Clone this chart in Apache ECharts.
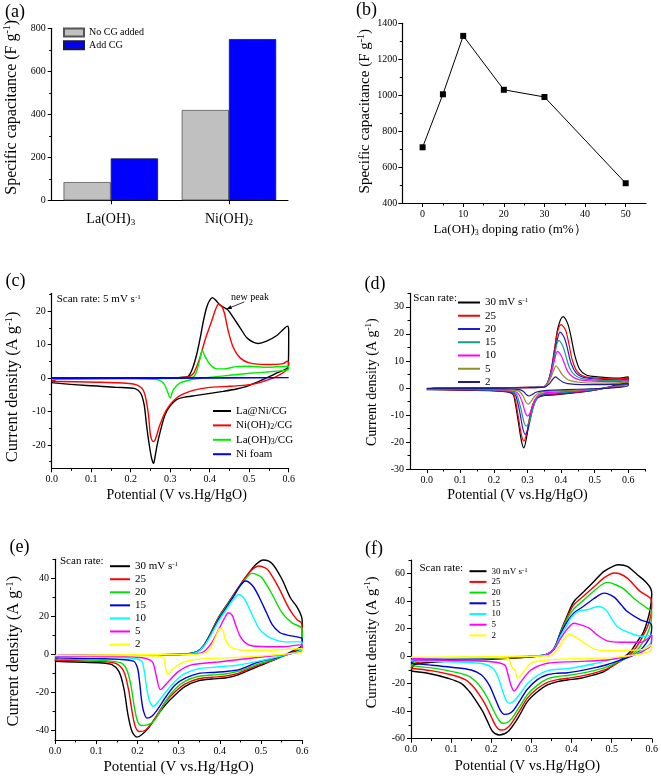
<!DOCTYPE html>
<html><head><meta charset="utf-8">
<script src="https://cdn.jsdelivr.net/npm/echarts@6/dist/echarts.min.js"></script>
<style>html,body{margin:0;padding:0;background:#fff}#c{width:661px;height:778px}</style>
</head><body><div id="c"></div>
<script>
// ---------------- DATA ----------------
// (a) bar chart
const barCategories = ['La(OH)3', 'Ni(OH)2'];
const barNoCG = [85, 420];
const barAddCG = [195, 750];
// (b) doping ratio
const dopingRatio = [0, 5, 10, 20, 30, 50];
const dopingCapacitance = [710, 1005, 1330, 1030, 990, 510];
// (c) CV at 5 mV/s  [potential V, current density A/g]
const cLaNi = [[0,-1.4],[0.01,-0.5],[0.05,-0.2],[0.2,-0.1],[0.3,0],[0.335,0.2],[0.346,0.5],[0.357,3],[0.367,7],[0.376,12],[0.384,17],[0.392,21],[0.399,23],[0.407,24],[0.417,23],[0.426,21.8],[0.434,21.2],[0.447,20.2],[0.46,18],[0.477,15],[0.494,12],[0.51,10.7],[0.523,10.3],[0.544,11],[0.57,12.7],[0.586,14.5],[0.597,15.5],[0.6,14],[0.599,3.5],[0.57,1.5],[0.544,0],[0.519,-1.3],[0.494,-2.5],[0.468,-3.3],[0.434,-4],[0.401,-4.6],[0.367,-5.2],[0.333,-5.8],[0.316,-6.5],[0.299,-8.5],[0.287,-11],[0.277,-15],[0.267,-20],[0.261,-24],[0.258,-25.5],[0.253,-24],[0.247,-20],[0.24,-14],[0.234,-8],[0.225,-4.5],[0.211,-3.2],[0.164,-2.8],[0.08,-2.2],[0,-1.4]];
const cNiOH2 = [[0,-1],[0.01,-0.4],[0.1,-0.2],[0.3,0],[0.34,0.2],[0.35,0.5],[0.36,1.5],[0.375,6],[0.39,12],[0.405,17],[0.415,20.5],[0.422,22],[0.43,21.5],[0.437,19.5],[0.447,14],[0.46,9],[0.477,6],[0.5,4.5],[0.544,4],[0.586,4.3],[0.597,5],[0.6,4.5],[0.599,3],[0.57,0.5],[0.536,-1],[0.502,-2],[0.451,-2.5],[0.401,-2.8],[0.35,-4],[0.316,-6],[0.291,-9.5],[0.274,-14],[0.262,-18.5],[0.257,-19],[0.25,-17],[0.245,-11],[0.236,-5],[0.228,-3],[0.207,-1.8],[0.122,-1.3],[0,-1]];
const cLaOH3 = [[0,-0.3],[0.2,-0.2],[0.34,0],[0.359,0.3],[0.367,2],[0.376,6],[0.381,8.2],[0.388,6.5],[0.401,4],[0.418,2.7],[0.434,2.7],[0.468,3.4],[0.502,3.5],[0.544,3.2],[0.597,3.5],[0.6,3.2],[0.598,2.4],[0.544,1.8],[0.502,1.4],[0.451,0.8],[0.401,0.2],[0.35,-0.6],[0.325,-1.5],[0.308,-3.5],[0.3,-6],[0.293,-4],[0.283,-1.5],[0.266,-0.5],[0.164,-0.2],[0,-0.3]];
const cNiFoam = [[0,0.05],[0.3,0.05],[0.6,0.1],[0.6,-0.05],[0.3,-0.1],[0,-0.1]];
// (d) scan rates
const d30 = [[0,-0.6],[0.02,-0.2],[0.1,0],[0.2,0.1],[0.3,0.2],[0.34,0.3],[0.351,0.4],[0.361,2],[0.371,6.3],[0.381,14.4],[0.391,22.4],[0.406,26.4],[0.42,23.7],[0.43,18.7],[0.44,12.5],[0.455,7],[0.475,4.8],[0.509,4.1],[0.569,3.6],[0.6,4.1],[0.6,2.5],[0.55,0.6],[0.53,0],[0.5,-0.8],[0.45,-1.7],[0.38,-2.6],[0.351,-2.8],[0.331,-3.6],[0.317,-6],[0.307,-11],[0.297,-18.5],[0.289,-22.2],[0.282,-19.7],[0.272,-12],[0.262,-4.5],[0.257,-2.4],[0.24,-1.5],[0.2,-1.1],[0.1,-0.8],[0,-0.6]];
const d25 = [[0,-0.5],[0.02,-0.2],[0.1,0],[0.2,0.1],[0.3,0.2],[0.35,0.5],[0.36,2],[0.37,6.5],[0.38,14],[0.39,21],[0.4,23.4],[0.413,21.5],[0.423,16.5],[0.433,10.5],[0.448,6],[0.468,4.3],[0.5,3.7],[0.56,3.3],[0.6,3.6],[0.6,2.2],[0.55,0.5],[0.5,-0.8],[0.45,-1.6],[0.38,-2.4],[0.35,-2.6],[0.33,-3.4],[0.318,-5.5],[0.308,-10],[0.297,-17],[0.289,-19.7],[0.282,-17.5],[0.273,-11],[0.264,-4.5],[0.258,-2.3],[0.24,-1.4],[0.2,-1],[0.1,-0.7],[0,-0.5]];
const d20 = [[0,-0.5],[0.02,-0.2],[0.1,0],[0.2,0.05],[0.3,0.15],[0.35,0.5],[0.36,2],[0.37,6],[0.38,12.5],[0.39,18.5],[0.397,20.6],[0.41,18.5],[0.42,14],[0.43,9],[0.445,5.5],[0.465,4],[0.5,3.3],[0.56,3],[0.6,3.2],[0.6,2],[0.55,0.4],[0.5,-0.7],[0.45,-1.4],[0.38,-2.2],[0.35,-2.4],[0.335,-3.2],[0.323,-5],[0.313,-9],[0.302,-15],[0.293,-17.2],[0.286,-15],[0.277,-9],[0.268,-4],[0.262,-2.2],[0.24,-1.3],[0.2,-0.9],[0.1,-0.6],[0,-0.5]];
const d15 = [[0,-0.4],[0.02,-0.15],[0.1,0],[0.2,0.05],[0.3,0.15],[0.35,0.5],[0.36,2],[0.37,5.5],[0.38,11.5],[0.387,16],[0.393,17.5],[0.405,15.5],[0.415,11.5],[0.425,7.5],[0.44,4.8],[0.46,3.5],[0.5,2.9],[0.56,2.7],[0.6,2.9],[0.6,1.8],[0.55,0.3],[0.5,-0.6],[0.45,-1.2],[0.38,-1.9],[0.35,-2.1],[0.335,-2.8],[0.325,-4.5],[0.315,-8],[0.305,-12.5],[0.296,-14.1],[0.289,-12.5],[0.28,-7.5],[0.271,-3.5],[0.265,-2],[0.24,-1.1],[0.2,-0.8],[0.1,-0.5],[0,-0.4]];
const d10 = [[0,-0.4],[0.02,-0.15],[0.1,0],[0.2,0.05],[0.3,0.1],[0.35,0.4],[0.36,1.8],[0.37,5],[0.38,10],[0.389,13.5],[0.4,12],[0.41,9],[0.42,6],[0.435,4],[0.455,3],[0.5,2.5],[0.56,2.3],[0.6,2.6],[0.6,1.5],[0.55,0.2],[0.5,-0.5],[0.45,-1],[0.38,-1.6],[0.35,-1.8],[0.335,-2.4],[0.325,-3.8],[0.315,-6.5],[0.307,-9.5],[0.3,-10.4],[0.293,-9],[0.285,-5.5],[0.276,-2.8],[0.268,-1.6],[0.24,-0.9],[0.2,-0.6],[0.1,-0.4],[0,-0.4]];
const d5 = [[0,-0.3],[0.1,0],[0.2,0.05],[0.3,0.1],[0.35,0.3],[0.36,1.5],[0.37,4],[0.378,6.5],[0.385,8.2],[0.393,7],[0.403,5],[0.415,3.5],[0.43,2.6],[0.46,2],[0.5,1.8],[0.56,1.8],[0.6,2.2],[0.6,1.2],[0.55,0.1],[0.5,-0.4],[0.45,-0.8],[0.38,-1.2],[0.35,-1.4],[0.335,-1.8],[0.322,-3],[0.312,-4.8],[0.302,-6],[0.295,-5.2],[0.287,-3],[0.278,-1.5],[0.265,-0.9],[0.2,-0.5],[0.1,-0.3],[0,-0.3]];
const d2 = [[0,-0.2],[0.1,0],[0.3,0.1],[0.35,0.3],[0.365,1.5],[0.375,3.2],[0.383,4.1],[0.392,3.3],[0.405,2.2],[0.42,1.6],[0.46,1.2],[0.52,1.2],[0.6,1.6],[0.6,0.8],[0.55,0],[0.5,-0.3],[0.45,-0.5],[0.38,-0.8],[0.35,-1],[0.325,-1.6],[0.313,-2.5],[0.304,-3],[0.296,-2.4],[0.287,-1.2],[0.275,-0.6],[0.2,-0.3],[0,-0.2]];
// (e)
const e30 = [[0,-3.6],[0.01,-1.2],[0.05,-0.8],[0.15,-0.5],[0.25,-0.3],[0.32,0.2],[0.345,1.5],[0.36,4.5],[0.375,10],[0.397,19.5],[0.42,27],[0.44,33.5],[0.462,40.4],[0.486,47],[0.506,49.6],[0.527,47.7],[0.551,39.4],[0.571,29.8],[0.587,25],[0.598,20],[0.6,16],[0.6,5],[0.583,2.5],[0.559,0],[0.527,-3.3],[0.494,-6.2],[0.446,-10.6],[0.413,-12.4],[0.381,-12.9],[0.349,-13.8],[0.316,-16.8],[0.292,-21.2],[0.268,-26.5],[0.244,-33.3],[0.227,-38.6],[0.211,-42.1],[0.199,-43.5],[0.187,-40.6],[0.177,-31.7],[0.167,-17.7],[0.155,-8.9],[0.138,-5.4],[0.114,-4.5],[0.05,-4],[0,-3.6]];
const e25 = [[0,-3],[0.01,-1],[0.05,-0.7],[0.15,-0.4],[0.25,-0.2],[0.32,0.2],[0.345,1.5],[0.36,4.5],[0.375,10],[0.397,19.5],[0.42,27],[0.44,33.5],[0.46,40],[0.478,44.5],[0.494,46.5],[0.51,45.5],[0.519,43.8],[0.543,35],[0.567,24.5],[0.587,18.3],[0.598,16.6],[0.6,13],[0.6,4.5],[0.583,2],[0.562,0],[0.53,-3],[0.494,-5.6],[0.446,-9.8],[0.413,-11.4],[0.381,-12],[0.349,-12.8],[0.316,-15.5],[0.292,-19.5],[0.268,-25],[0.25,-31],[0.232,-37],[0.218,-40],[0.205,-40.5],[0.195,-38],[0.187,-30],[0.178,-18],[0.167,-9],[0.15,-5],[0.12,-3.8],[0.05,-3.3],[0,-3]];
const e20 = [[0,-2.5],[0.01,-0.9],[0.05,-0.6],[0.15,-0.4],[0.25,-0.2],[0.32,0.2],[0.345,1.5],[0.36,4.3],[0.375,9.7],[0.397,19],[0.42,26.5],[0.44,33],[0.46,39],[0.478,42.6],[0.49,42],[0.502,40.3],[0.527,31.5],[0.551,21.8],[0.575,16.6],[0.598,14],[0.6,11],[0.6,4],[0.583,1.5],[0.565,0],[0.53,-2.7],[0.494,-5],[0.446,-8.8],[0.413,-10.3],[0.381,-10.8],[0.349,-11.5],[0.316,-14],[0.292,-18],[0.27,-24],[0.252,-31],[0.235,-36],[0.21,-37.4],[0.2,-35],[0.192,-27],[0.184,-16],[0.174,-8],[0.16,-4.5],[0.12,-3.2],[0.05,-2.7],[0,-2.5]];
const e15 = [[0,-1.8],[0.01,-0.8],[0.05,-0.6],[0.15,-0.4],[0.25,-0.2],[0.32,0.2],[0.345,1.4],[0.36,4.2],[0.375,9.5],[0.397,18.5],[0.42,26],[0.435,31],[0.447,35.5],[0.462,38.6],[0.48,36],[0.496,29.8],[0.513,22],[0.527,15.7],[0.545,11.5],[0.559,10.4],[0.598,8.7],[0.6,8],[0.6,3.5],[0.58,1],[0.566,0],[0.53,-2.2],[0.494,-4],[0.446,-8],[0.413,-9],[0.381,-9.5],[0.349,-10],[0.316,-12.5],[0.292,-16],[0.27,-22],[0.25,-28.5],[0.235,-32.5],[0.223,-33.5],[0.215,-30],[0.21,-24],[0.205,-14],[0.2,-7],[0.19,-3.5],[0.12,-2.3],[0.05,-2],[0,-1.8]];
const e10 = [[0,-1.2],[0.01,-0.6],[0.1,-0.4],[0.25,-0.2],[0.32,0.1],[0.345,1.2],[0.36,4],[0.375,9],[0.397,17.5],[0.42,25],[0.435,29.5],[0.446,31.5],[0.46,29],[0.478,21],[0.494,14],[0.51,10.4],[0.53,8],[0.559,6.6],[0.598,6.6],[0.6,6],[0.6,3],[0.58,0.8],[0.566,0],[0.53,-1.8],[0.494,-3.5],[0.446,-5.6],[0.413,-6.2],[0.381,-6.8],[0.349,-7.5],[0.316,-10],[0.292,-14],[0.27,-19.5],[0.25,-25],[0.239,-27.3],[0.23,-25],[0.222,-17],[0.216,-8],[0.21,-3.5],[0.19,-2],[0.1,-1.4],[0,-1.2]];
const e5 = [[0,-0.8],[0.01,-0.4],[0.1,-0.3],[0.25,-0.1],[0.33,0.1],[0.355,0.8],[0.365,2],[0.38,6],[0.397,13],[0.41,18.5],[0.421,21.9],[0.43,20.5],[0.438,15.7],[0.448,10],[0.458,6.9],[0.47,5],[0.486,4.3],[0.55,4],[0.598,5],[0.6,5],[0.6,2],[0.559,0],[0.478,-1.9],[0.397,-4],[0.333,-5.4],[0.3,-8.9],[0.272,-15],[0.256,-18.5],[0.245,-10.6],[0.235,-3.6],[0.2,-1.5],[0.1,-1],[0,-0.8]];
const e2 = [[0,-0.5],[0.1,-0.3],[0.25,-0.1],[0.34,0],[0.365,0.8],[0.375,2.5],[0.389,8.7],[0.395,12],[0.401,13.6],[0.408,12.5],[0.413,7.8],[0.43,3.4],[0.462,2.2],[0.52,2.2],[0.598,3],[0.6,3],[0.6,1.5],[0.559,0.2],[0.5,-0.8],[0.45,-1.5],[0.341,-2.7],[0.308,-4.5],[0.284,-8],[0.274,-10.6],[0.268,-7],[0.264,-1.9],[0.25,-0.9],[0.15,-0.6],[0,-0.5]];
// (f)
const f30 = [[0,-10.7],[0.01,-6],[0.05,-4.5],[0.1,-3.5],[0.2,-2.2],[0.3,-0.5],[0.34,1.5],[0.357,5.8],[0.373,18],[0.39,30],[0.406,39.8],[0.431,47],[0.456,54.4],[0.481,61.7],[0.506,65.8],[0.518,66.5],[0.539,65.3],[0.564,59.3],[0.584,54.4],[0.597,49.5],[0.6,45],[0.598,38],[0.593,30],[0.58,18],[0.564,10.7],[0.547,3.4],[0.53,-1],[0.506,-6.3],[0.481,-11.2],[0.456,-13.6],[0.423,-16],[0.39,-17.3],[0.365,-18.5],[0.34,-20.9],[0.315,-25.8],[0.29,-33],[0.266,-45.2],[0.241,-55],[0.22,-57.3],[0.204,-55],[0.191,-47.6],[0.179,-40.3],[0.158,-30.6],[0.146,-25.8],[0.125,-19.7],[0.092,-16],[0.042,-12.4],[0,-10.7]];
const f25 = [[0,-8.7],[0.01,-5],[0.05,-3.8],[0.1,-3],[0.2,-1.8],[0.3,-0.4],[0.34,1.5],[0.357,5.8],[0.373,17.5],[0.39,29],[0.406,37.5],[0.431,44],[0.456,50.5],[0.481,57],[0.506,60.5],[0.52,60],[0.539,56.8],[0.572,47],[0.597,42.2],[0.6,38.6],[0.598,30],[0.59,22],[0.575,13],[0.56,6],[0.545,1],[0.52,-4],[0.49,-9],[0.456,-12.3],[0.423,-14.5],[0.39,-16],[0.365,-17],[0.34,-19],[0.315,-23.5],[0.29,-30.5],[0.27,-40],[0.25,-49],[0.236,-53],[0.224,-53.7],[0.212,-51],[0.2,-44],[0.185,-35],[0.17,-28],[0.155,-22],[0.135,-17],[0.1,-13.5],[0.05,-10.5],[0,-8.7]];
const f20 = [[0,-7],[0.01,-4],[0.05,-3],[0.1,-2.5],[0.2,-1.5],[0.3,-0.3],[0.34,1.5],[0.357,5.8],[0.373,17],[0.39,27.5],[0.406,34.5],[0.431,41],[0.456,47.5],[0.475,52],[0.489,53.7],[0.51,52],[0.53,49],[0.555,42.2],[0.588,35],[0.6,32.5],[0.598,24],[0.59,17],[0.578,10],[0.562,4],[0.545,0],[0.52,-3.5],[0.49,-7.5],[0.456,-10.5],[0.423,-12.5],[0.39,-14],[0.365,-14.8],[0.34,-16.5],[0.315,-21],[0.29,-28],[0.27,-37],[0.252,-45],[0.238,-48.5],[0.228,-48.8],[0.218,-46],[0.205,-39],[0.19,-30],[0.175,-23],[0.16,-18],[0.14,-14],[0.1,-11],[0.05,-8.5],[0,-7]];
const f15 = [[0,-5.2],[0.01,-3],[0.05,-2.3],[0.1,-2],[0.2,-1.2],[0.3,-0.2],[0.34,1.5],[0.357,5.8],[0.373,16.5],[0.39,25.5],[0.406,31.5],[0.431,36.5],[0.456,42],[0.481,45.9],[0.506,43],[0.525,37],[0.539,32.5],[0.572,26.5],[0.597,24],[0.6,21.6],[0.597,15],[0.585,9],[0.57,4],[0.55,0],[0.52,-3],[0.49,-6],[0.456,-8.5],[0.423,-10.5],[0.39,-12],[0.365,-12.4],[0.34,-13.5],[0.315,-17],[0.29,-24],[0.27,-33],[0.255,-39.5],[0.243,-42],[0.233,-42.3],[0.222,-39],[0.21,-31],[0.195,-21],[0.175,-13.5],[0.15,-10],[0.1,-8],[0.05,-6.5],[0,-5.2]];
const f10 = [[0,-3.4],[0.01,-2],[0.05,-1.6],[0.1,-1.3],[0.2,-0.8],[0.3,0],[0.34,1.5],[0.357,5.5],[0.373,15],[0.39,23],[0.398,27.7],[0.415,32.5],[0.439,33.8],[0.468,36.2],[0.48,35],[0.489,32.5],[0.514,21.6],[0.547,16.7],[0.58,14.3],[0.6,15.5],[0.598,10],[0.58,5],[0.56,1.5],[0.54,0],[0.5,-2.5],[0.456,-5.5],[0.423,-7.5],[0.39,-9],[0.365,-9.5],[0.34,-10.5],[0.315,-14],[0.29,-20],[0.27,-28],[0.255,-33],[0.245,-34.3],[0.237,-32],[0.228,-25],[0.218,-16],[0.205,-9],[0.18,-5.5],[0.12,-4.2],[0.05,-3.7],[0,-3.4]];
const f5 = [[0,-2.5],[0.01,-1.5],[0.1,-1],[0.2,-0.6],[0.3,0],[0.34,1.2],[0.357,5],[0.373,13],[0.39,20],[0.406,24],[0.423,22.8],[0.444,20.4],[0.464,15.5],[0.489,11.2],[0.522,10.2],[0.572,10.2],[0.6,15.5],[0.598,8],[0.58,4],[0.565,1.5],[0.54,0],[0.489,-2.7],[0.406,-3.9],[0.34,-5.1],[0.299,-10],[0.274,-18.5],[0.257,-25.3],[0.249,-21],[0.241,-12.4],[0.233,-6.3],[0.2,-4],[0.1,-3],[0,-2.5]];
const f2 = [[0,-0.8],[0.1,-0.5],[0.3,0],[0.35,0.5],[0.357,2.2],[0.37,7],[0.38,12],[0.394,16],[0.415,13],[0.439,8.2],[0.464,4.6],[0.489,4.1],[0.572,4.6],[0.6,8.2],[0.598,4],[0.57,1.5],[0.5,-1],[0.45,-1.5],[0.34,-2.7],[0.299,-5.1],[0.278,-12.4],[0.266,-16],[0.259,-10],[0.253,-8.7],[0.241,-1.5],[0.2,-1],[0.1,-0.9],[0,-0.8]];
// tick values
const potTicks = [0, 0.1, 0.2, 0.3, 0.4, 0.5, 0.6];
const potMinor = [0.05, 0.15, 0.25, 0.35, 0.45, 0.55];
const scanRates = ['30', '25', '20', '15', '10', '5', '2'];

// ---------------- STYLE / LAYOUT ----------------
const FONT = '"Liberation Serif","Times New Roman",Times,serif';
function richFor(size) {
  const s = Math.round(size * 0.64);
  return {
    sup: {fontFamily: FONT, fontSize: s, lineHeight: s - 2, verticalAlign: 'top', color: '#000'},
    sub: {fontFamily: FONT, fontSize: s, lineHeight: s - 2, verticalAlign: 'bottom', color: '#000'}
  };
}
const RICH_S = {
  sup: {fontFamily: FONT, fontSize: 7, lineHeight: 5, verticalAlign: 'top', color: '#000'},
  sub: {fontFamily: FONT, fontSize: 8, lineHeight: 5, verticalAlign: 'bottom', color: '#000'}
};
const grids = [
  {left: 51.7, top: 28.3, width: 236.3, height: 172},
  {left: 402.3, top: 23.3, width: 243.7, height: 179.7},
  {left: 51.7, top: 293.3, width: 237, height: 175},
  {left: 410, top: 293.3, width: 235, height: 175.7},
  {left: 55, top: 559.3, width: 247.3, height: 180.7},
  {left: 411, top: 560, width: 241.7, height: 178.7}
];
const xAxes = [], yAxes = [];
function addValueAxes(list, dim, grid, o) {
  const pos = dim === 'x' ? 'bottom' : 'left';
  const idx = list.length;
  const ns = o.nameSize || 14;
  list.push({
    type: 'value', gridIndex: grid, position: pos, min: o.min, max: o.max,
    axisLine: {show: true, onZero: false, lineStyle: {color: '#000', width: 1.2}},
    axisTick: {show: true, inside: false, length: 4, customValues: o.majors, lineStyle: {color: '#000', width: 1}},
    axisLabel: {show: true, customValues: o.majors, formatter: o.fmt, color: '#000', fontFamily: FONT, fontSize: 10, margin: o.margin},
    splitLine: {show: false},
    name: o.name, nameLocation: 'middle', nameGap: o.nameGap, nameRotate: dim === 'y' ? 90 : 0,
    nameTextStyle: {color: '#000', fontFamily: FONT, fontSize: ns, lineHeight: ns + 2, rich: richFor(ns), padding: o.namePad || 0}
  });
  list.push({
    type: 'value', gridIndex: grid, position: pos, min: o.min, max: o.max,
    axisLine: {show: false, onZero: false},
    axisTick: {show: true, inside: false, length: 2.5, customValues: o.minors, lineStyle: {color: '#000', width: 1}},
    axisLabel: {show: false}, splitLine: {show: false}
  });
  return idx;
}
const fmtPot = v => v.toFixed(1);
const fmtInt = v => String(Math.round(v));
const potName = 'Potential (V vs.Hg/HgO)';
const curName = 'Current density (A g{sup|-1})';
const capName = 'Specific capacitance (F g{sup|-1})';

// (a)
const aX = xAxes.length;
xAxes.push({
  type: 'category', gridIndex: 0, position: 'bottom', data: barCategories,
  axisLine: {show: true, onZero: false, lineStyle: {color: '#000', width: 1.2}},
  axisTick: {show: true, alignWithLabel: true, inside: false, length: 4, lineStyle: {color: '#000'}},
  axisLabel: {color: '#000', fontFamily: FONT, fontSize: 14, lineHeight: 16, margin: 11, formatter: v => v.replace(/(\d)$/, '{sub|$1}'), rich: richFor(14)}
});
const aY = addValueAxes(yAxes, 'y', 0, {min: 0, max: 800, majors: [0,200,400,600,800], minors: [100,300,500,700], fmt: fmtInt, margin: 6, name: capName, nameGap: 31, nameSize: 16, namePad: [0, 0, 0, 14]});
// (b)
const bX = addValueAxes(xAxes, 'x', 1, {min: -5, max: 55, majors: [0,10,20,30,40,50], minors: [5,15,25,35,45], fmt: fmtInt, margin: 6, name: 'La(OH){sub|3} doping ratio (m%\uFF09', nameGap: 19, nameSize: 13, namePad: [0, 28, 0, 0]});
const bY = addValueAxes(yAxes, 'y', 1, {min: 400, max: 1400, majors: [400,600,800,1000,1200,1400], minors: [500,700,900,1100,1300], fmt: fmtInt, margin: 5, name: capName, nameGap: 25, nameSize: 15, namePad: [0, 0, 0, 4]});
// (c)
const cX = addValueAxes(xAxes, 'x', 2, {min: 0, max: 0.6, majors: potTicks, minors: potMinor, fmt: fmtPot, margin: 6, name: potName, nameGap: 19, namePad: [0, 0, 0, 13]});
const cY = addValueAxes(yAxes, 'y', 2, {min: -27, max: 25.3, majors: [-20,-10,0,10,20], minors: [-25,-15,-5,5,15,25], fmt: fmtInt, margin: 6, name: curName, nameGap: 30, nameSize: 16.5, namePad: [0, 12, 0, 0]});
// (d)
const dX = addValueAxes(xAxes, 'x', 3, {min: -0.05, max: 0.65, majors: potTicks, minors: potMinor.concat([0.65]), fmt: fmtPot, margin: 6, name: potName, nameGap: 18, namePad: [0, 20, 0, 0]});
const dY = addValueAxes(yAxes, 'y', 3, {min: -30, max: 35, majors: [-30,-20,-10,0,10,20,30], minors: [-25,-15,-5,5,15,25,35], fmt: fmtInt, margin: 6, name: curName, nameGap: 30, nameSize: 14, namePad: [0, 2, 0, 0]});
// (e)
const eX = addValueAxes(xAxes, 'x', 4, {min: 0, max: 0.6, majors: potTicks, minors: potMinor, fmt: fmtPot, margin: 6, name: potName, nameGap: 19, nameSize: 15});
const eY = addValueAxes(yAxes, 'y', 4, {min: -45, max: 50, majors: [-40,-20,0,20,40], minors: [-30,-10,10,30,50], fmt: fmtInt, margin: 6, name: curName, nameGap: 32, nameSize: 16.5, namePad: [0, 3, 0, 0]});
// (f)
const fX = addValueAxes(xAxes, 'x', 5, {min: 0, max: 0.6, majors: potTicks, minors: potMinor, fmt: fmtPot, margin: 6, name: potName, nameGap: 19, nameSize: 14.5, namePad: [0, 8, 0, 0]});
const fY = addValueAxes(yAxes, 'y', 5, {min: -60, max: 70, majors: [-60,-40,-20,0,20,40,60], minors: [-50,-30,-10,10,30,50,70], fmt: fmtInt, margin: 6, name: curName, nameGap: 31, nameSize: 14.5, namePad: [0, 0, 0, 14]});

function cv(name, xi, yi, data, color, w) {
  return {type: 'line', name, xAxisIndex: xi, yAxisIndex: yi, data, symbol: 'none', smooth: 0.3,
    lineStyle: {color, width: w || 1.3}, itemStyle: {color}, clip: true, z: 3};
}
const series = [];
series.push({type: 'bar', name: 'No CG added', xAxisIndex: aX, yAxisIndex: aY, data: barNoCG, barGap: '0%', barCategoryGap: '20%',
  itemStyle: {color: '#c0c0c0', borderColor: '#555', borderWidth: 0.8}});
series.push({type: 'bar', name: 'Add CG', xAxisIndex: aX, yAxisIndex: aY, data: barAddCG, barGap: '0%', barCategoryGap: '20%',
  itemStyle: {color: '#0000ff', borderColor: '#1a1a40', borderWidth: 0.8}});
series.push({type: 'line', name: 'doping', xAxisIndex: bX, yAxisIndex: bY, data: dopingRatio.map((r, i) => [r, dopingCapacitance[i]]),
  symbol: 'rect', symbolSize: 6, lineStyle: {color: '#000', width: 1}, itemStyle: {color: '#000'}});
const cNames = ['La@Ni/CG', 'Ni(OH)2/CG', 'La(OH)3/CG', 'Ni foam'];
series.push(cv(cNames[0], cX, cY, cLaNi, '#000000', 1.4));
series.push(cv(cNames[1], cX, cY, cNiOH2, '#ff0000', 1.4));
series.push(cv(cNames[2], cX, cY, cLaOH3, '#00ee00', 1.4));
series.push(cv(cNames[3], cX, cY, cNiFoam, '#0000ff', 1.4));
const dColors = ['#000000', '#ff0000', '#1f1fd0', '#199a8a', '#ff00ff', '#8f8f2a', '#1f1f8a'];
const dData = [d30, d25, d20, d15, d10, d5, d2];
const eColors = ['#000000', '#ff0000', '#00e000', '#0000dd', '#00ffff', '#ff00ff', '#ffff00'];
const eData = [e30, e25, e20, e15, e10, e5, e2];
const fData = [f30, f25, f20, f15, f10, f5, f2];
scanRates.forEach((r, i) => series.push(cv('(d) ' + r, dX, dY, dData[i], dColors[i], 1.2)));
scanRates.forEach((r, i) => series.push(cv('(e) ' + r, eX, eY, eData[i], eColors[i], 1.4)));
scanRates.forEach((r, i) => series.push(cv('(f) ' + r, fX, fY, fData[i], eColors[i], 1.4)));

const rateLabel = name => {
  const r = name.replace(/^\([def]\) /, '');
  return r === '30' ? '30 mV s{sup|-1}' : r;
};
// line-style legend keys: thin rect icon; row height set by text line height
function rateLegend(prefix, left, firstRowCenter, iw, lh, gap, fs) {
  return {data: scanRates.map(r => prefix + r), orient: 'vertical', left, top: firstRowCenter - 1, padding: 0,
    icon: 'rect', itemWidth: iw, itemHeight: 2, itemGap: gap, selectedMode: false,
    formatter: rateLabel,
    textStyle: {fontFamily: FONT, fontSize: fs, lineHeight: lh, color: '#000', rich: RICH_S}};
}
const legends = [
  {data: ['No CG added', 'Add CG'], orient: 'vertical', left: 63, top: 27.5, padding: 0, icon: 'rect',
   itemWidth: 20, itemHeight: 8, itemGap: 2.7, selectedMode: false,
   textStyle: {fontFamily: FONT, fontSize: 10, lineHeight: 10, color: '#000'}},
  {data: cNames, orient: 'vertical', left: 213, top: 405, padding: 0, icon: 'rect', itemWidth: 18, itemHeight: 2, itemGap: 2.4,
   selectedMode: false,
   formatter: n => n.replace(/\)(\d)/, '){sub|$1}'),
   textStyle: {fontFamily: FONT, fontSize: 11, lineHeight: 12, color: '#000', rich: RICH_S}},
  rateLegend('(d) ', 458, 298, 22, 11, 2.25, 11),
  rateLegend('(e) ', 110, 561.7, 20, 11, 2.05, 11),
  rateLegend('(f) ', 469.5, 567.7, 17, 9, 1.7, 9)
];

function txt(x, y, text, size, align, rich) {
  return {type: 'text', x, y, z: 10, style: {text, fill: '#000', font: size + 'px ' + FONT,
    align: align || 'left', verticalAlign: 'middle', textAlign: align || 'left', textVerticalAlign: 'middle', rich: rich}};
}
const labels = [
  txt(15, 12.5, '(a)', 18, 'center'), txt(366.5, 10.5, '(b)', 18, 'center'),
  txt(15.5, 281.5, '(c)', 18, 'center'), txt(375, 284.5, '(d)', 18, 'center'),
  txt(19.5, 547.5, '(e)', 18, 'center'), txt(374, 549.5, '(f)', 18, 'center'),
  txt(56.7, 299, 'Scan rate: 5 mV s{sup|-1}', 11, 'left', RICH_S),
  txt(413.3, 298, 'Scan rate:', 11, 'left'),
  txt(60, 561.5, 'Scan rate:', 11, 'left'),
  txt(419.5, 567.7, 'Scan rate:', 11, 'left'),
  txt(250, 297, 'new peak', 10, 'center')
];

const chart = echarts.init(document.getElementById('c'));
chart.setOption({
  animation: false, backgroundColor: '#ffffff',
  grid: grids, xAxis: xAxes, yAxis: yAxes, legend: legends, series,
  graphic: labels
});
// arrow for "new peak" pointing at shoulder of La@Ni/CG curve
const tip = chart.convertToPixel({xAxisIndex: cX, yAxisIndex: cY}, [0.443, 20.6]);
const dir = [0.927, -0.375], perp = [0.375, 0.927];
const start = [tip[0] + 19 * dir[0], tip[1] + 19 * dir[1]];
const arrow = [
  {type: 'line', z: 10, shape: {x1: start[0], y1: start[1], x2: tip[0], y2: tip[1]}, style: {stroke: '#000', lineWidth: 0.8}},
  {type: 'polygon', z: 10, shape: {points: [tip,
    [tip[0] + 5 * dir[0] + 2 * perp[0], tip[1] + 5 * dir[1] + 2 * perp[1]],
    [tip[0] + 5 * dir[0] - 2 * perp[0], tip[1] + 5 * dir[1] - 2 * perp[1]]]}, style: {fill: '#000'}}
];
chart.setOption({graphic: labels.concat(arrow)});
</script>
</body></html>
